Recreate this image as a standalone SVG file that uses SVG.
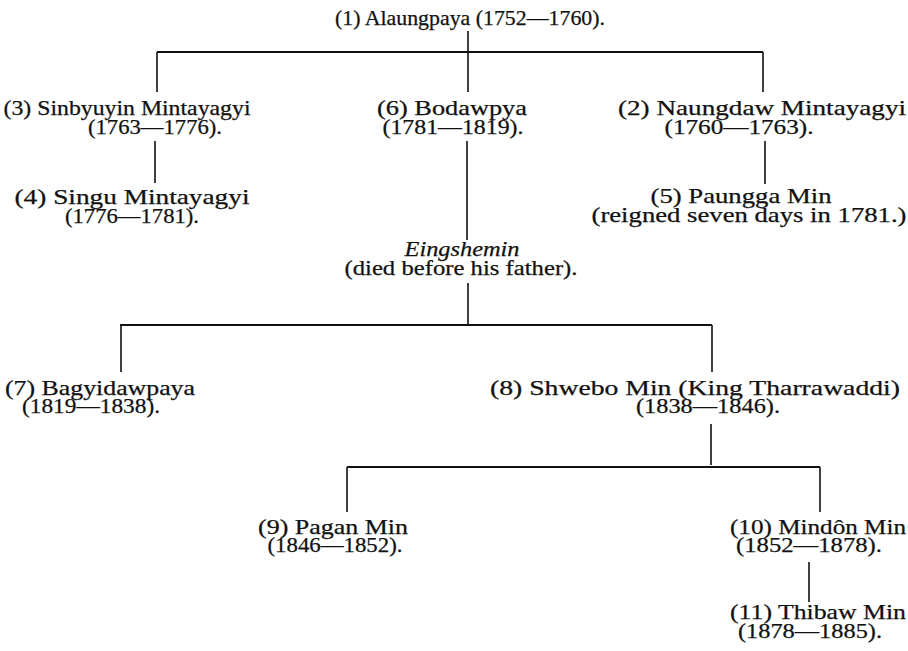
<svg xmlns="http://www.w3.org/2000/svg" width="908" height="651" viewBox="0 0 908 651">
<style>
text{font-family:"Liberation Serif","DejaVu Serif",serif;font-size:21px;fill:#111;text-anchor:middle;stroke:#111;stroke-width:0.25}
.i{font-style:italic}
.c line{stroke:#111;stroke-width:1.6}
.c .h{stroke-width:2}
</style>
<rect width="908" height="651" fill="#fff"/>
<g class="c" id="connectors">
<line x1="468" y1="31" x2="468" y2="53"/>
<line class="h" x1="157" y1="52" x2="763" y2="52"/>
<line x1="157" y1="52" x2="157" y2="92"/>
<line x1="468" y1="52" x2="468" y2="92"/>
<line x1="763" y1="52" x2="763" y2="92"/>
<line x1="155" y1="141" x2="155" y2="183"/>
<line x1="765" y1="141" x2="765" y2="184"/>
<line x1="467" y1="141" x2="467" y2="240"/>
<line x1="468" y1="283" x2="468" y2="324"/>
<line class="h" x1="120" y1="325" x2="712" y2="325"/>
<line x1="121" y1="325" x2="121" y2="372"/>
<line x1="712" y1="325" x2="712" y2="372"/>
<line x1="711" y1="424" x2="711" y2="465"/>
<line class="h" x1="347" y1="467" x2="820" y2="467"/>
<line x1="347" y1="467" x2="347" y2="512"/>
<line x1="820" y1="467" x2="820" y2="512"/>
<line x1="809" y1="562" x2="809" y2="602"/>
</g>
<g id="n1"><text x="470" y="25" textLength="270" lengthAdjust="spacingAndGlyphs">(1) Alaungpaya (1752—1760).</text></g>
<g id="n3"><text x="127" y="115" textLength="247" lengthAdjust="spacingAndGlyphs">(3) Sinbyuyin Mintayagyi</text><text x="155" y="134" textLength="134" lengthAdjust="spacingAndGlyphs">(1763—1776).</text></g>
<g id="n4"><text x="132" y="204" textLength="235" lengthAdjust="spacingAndGlyphs">(4) Singu Mintayagyi</text><text x="132" y="223" textLength="134" lengthAdjust="spacingAndGlyphs">(1776—1781).</text></g>
<g id="n6"><text x="452" y="115" textLength="150" lengthAdjust="spacingAndGlyphs">(6) Bodawpya</text><text x="453" y="134" textLength="141" lengthAdjust="spacingAndGlyphs">(1781—1819).</text></g>
<g id="n2"><text x="762" y="115" textLength="288" lengthAdjust="spacingAndGlyphs">(2) Naungdaw Mintayagyi</text><text x="739" y="134" textLength="149" lengthAdjust="spacingAndGlyphs">(1760—1763).</text></g>
<g id="n5"><text x="741" y="203" textLength="181" lengthAdjust="spacingAndGlyphs">(5) Paungga Min</text><text x="749" y="222" textLength="315" lengthAdjust="spacingAndGlyphs">(reigned seven days in 1781.)</text></g>
<g id="ne"><text class="i" x="462" y="256" textLength="115" lengthAdjust="spacingAndGlyphs">Eingshemin</text><text x="461" y="275" textLength="233" lengthAdjust="spacingAndGlyphs">(died before his father).</text></g>
<g id="n7"><text x="100" y="395" textLength="190" lengthAdjust="spacingAndGlyphs">(7) Bagyidawpaya</text><text x="91" y="413" textLength="138" lengthAdjust="spacingAndGlyphs">(1819—1838).</text></g>
<g id="n8"><text x="695" y="395" textLength="410" lengthAdjust="spacingAndGlyphs">(8) Shwebo Min (King Tharrawaddi)</text><text x="708" y="413" textLength="144" lengthAdjust="spacingAndGlyphs">(1838—1846).</text></g>
<g id="n9"><text x="333" y="534" textLength="150" lengthAdjust="spacingAndGlyphs">(9) Pagan Min</text><text x="335" y="552" textLength="135" lengthAdjust="spacingAndGlyphs">(1846—1852).</text></g>
<g id="n10"><text x="818" y="534" textLength="176" lengthAdjust="spacingAndGlyphs">(10) Mindôn Min</text><text x="809" y="552" textLength="146" lengthAdjust="spacingAndGlyphs">(1852—1878).</text></g>
<g id="n11"><text x="818" y="619" textLength="176" lengthAdjust="spacingAndGlyphs">(11) Thibaw Min</text><text x="810" y="638" textLength="144" lengthAdjust="spacingAndGlyphs">(1878—1885).</text></g>
</svg>
